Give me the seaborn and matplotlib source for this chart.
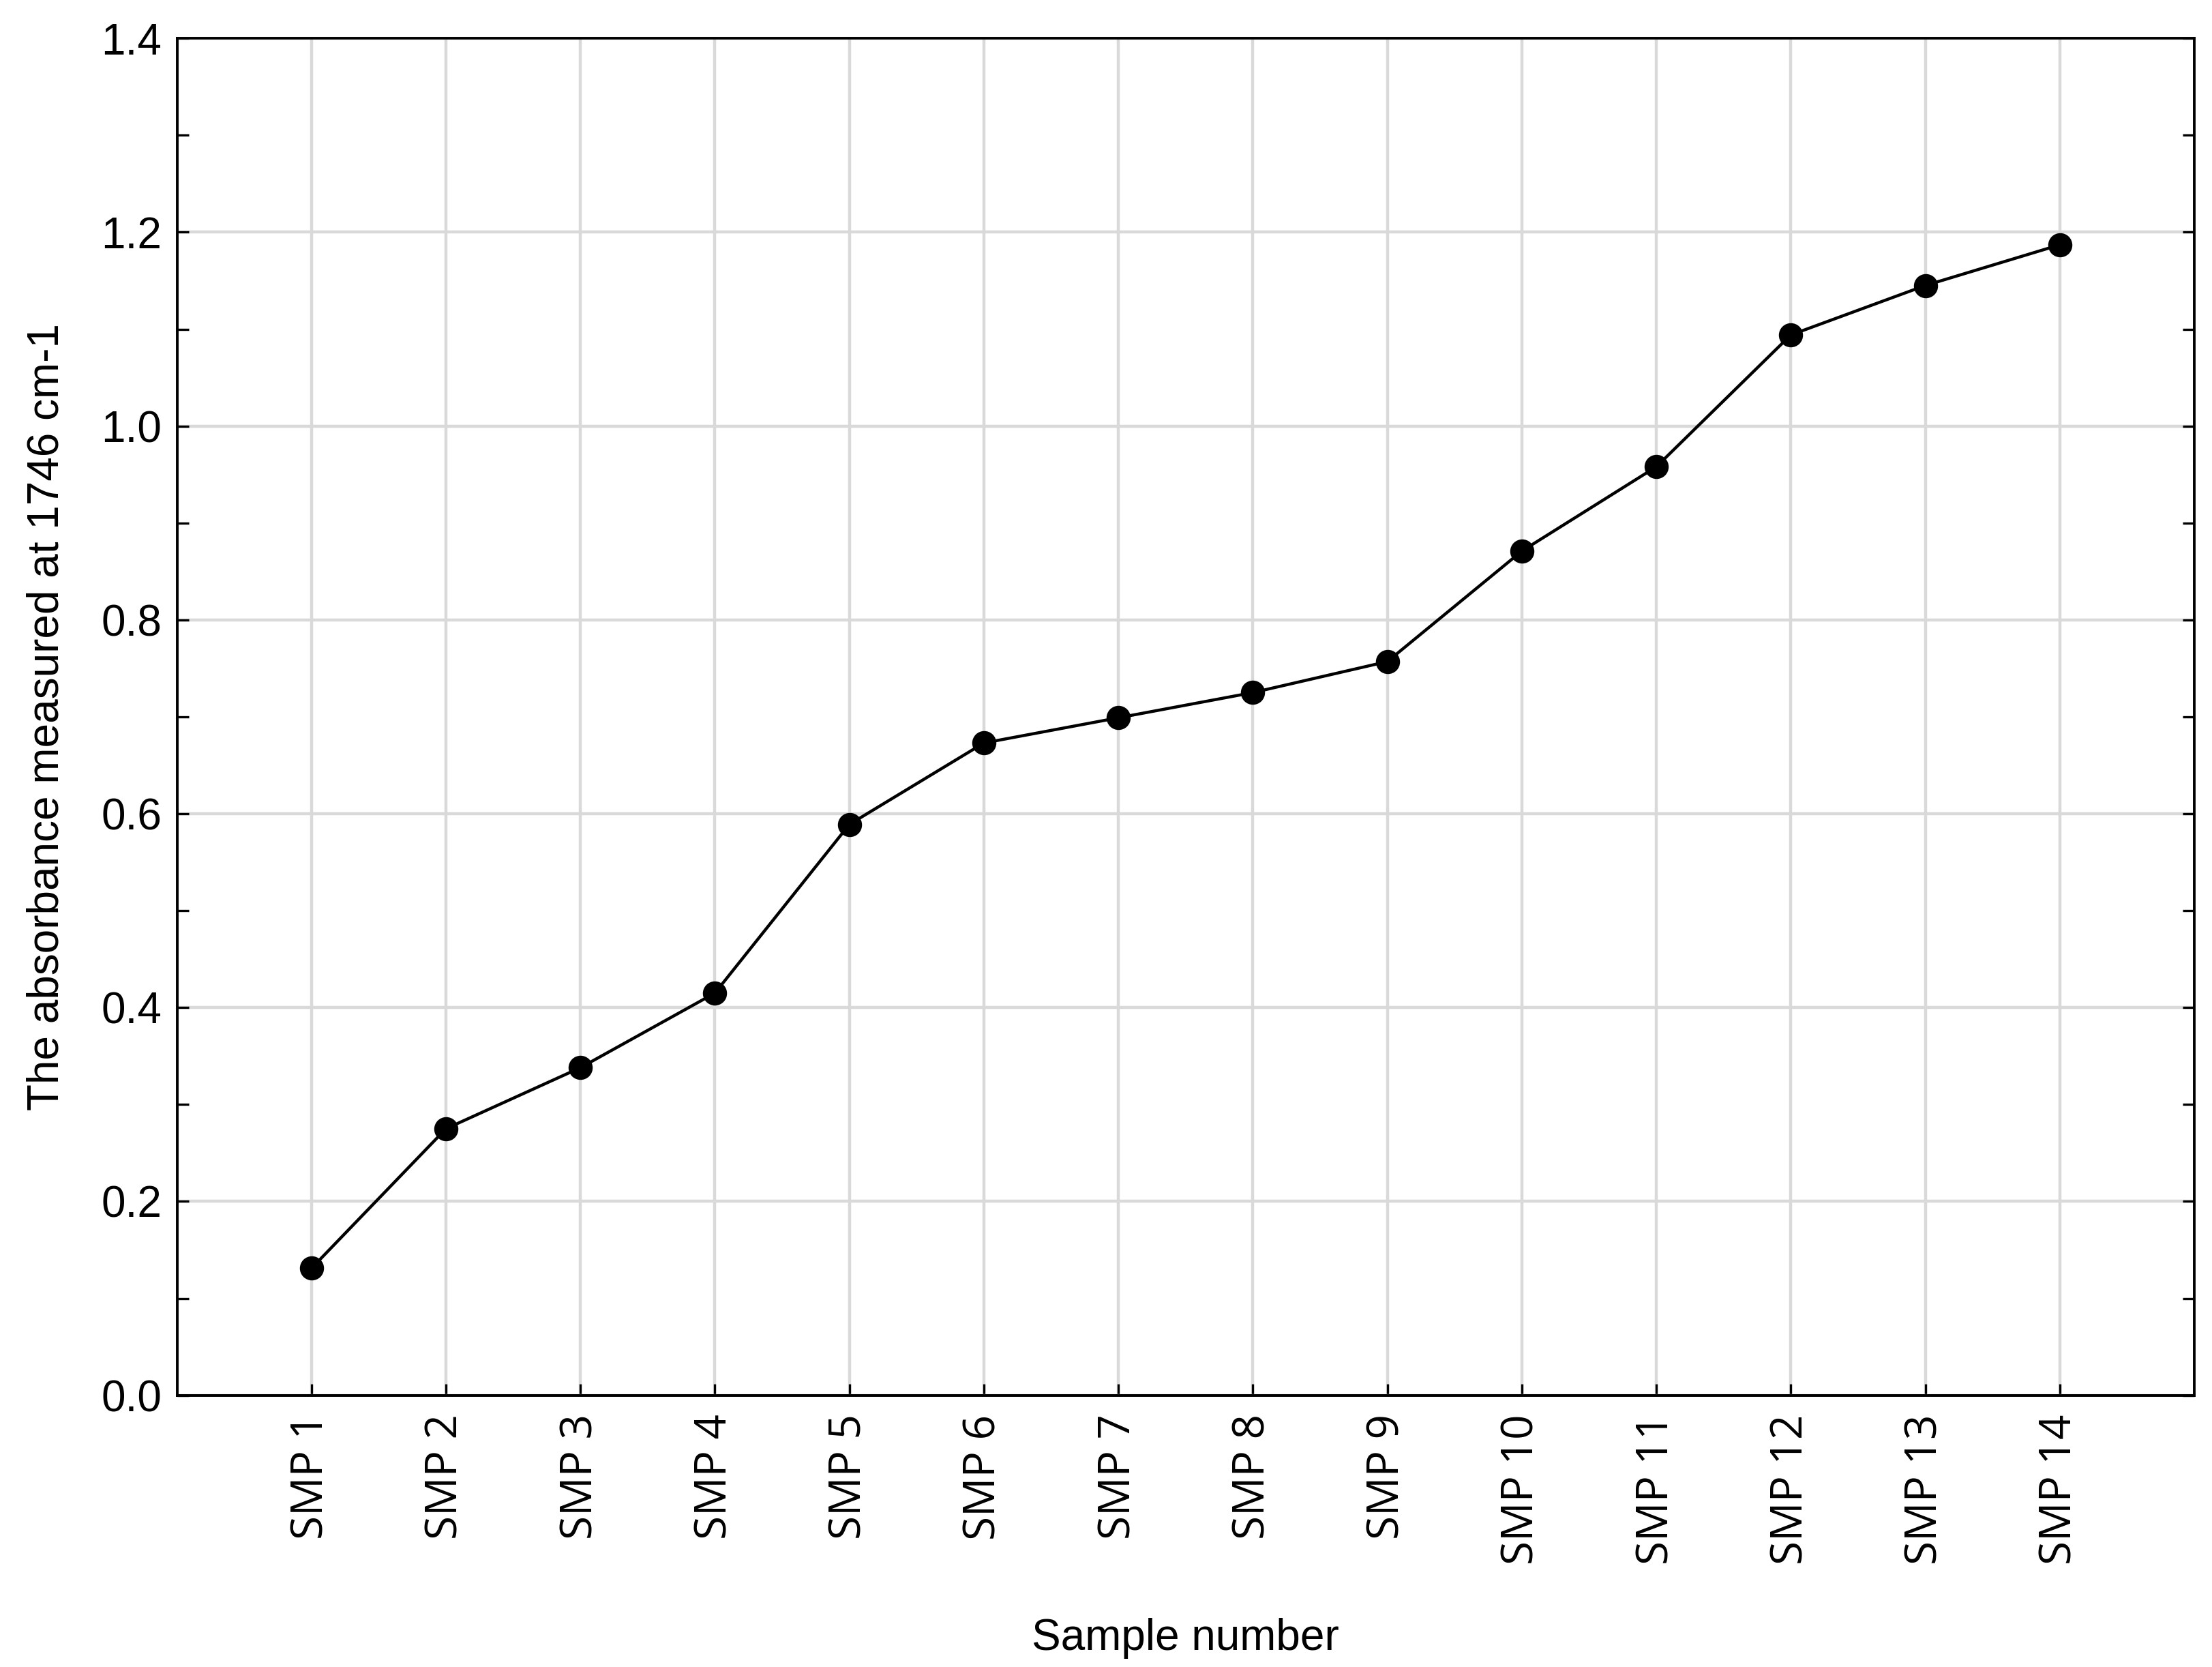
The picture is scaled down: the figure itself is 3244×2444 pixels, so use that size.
import pandas as pd
import seaborn as sns
import matplotlib.pyplot as plt
from matplotlib.ticker import MultipleLocator

# data
samples = ['SMP 1', 'SMP 2', 'SMP 3', 'SMP 4', 'SMP 5', 'SMP 6', 'SMP 7',
           'SMP 8', 'SMP 9', 'SMP 10', 'SMP 11', 'SMP 12', 'SMP 13', 'SMP 14']
absorbance = [0.131, 0.275, 0.338, 0.415, 0.589, 0.673, 0.699,
              0.725, 0.757, 0.871, 0.958, 1.094, 1.145, 1.187]

df = pd.DataFrame({'pos': range(1, len(samples) + 1), 'absorbance': absorbance})

sns.set_style('white')
plt.rcParams['font.family'] = ['Liberation Sans', 'DejaVu Sans']
plt.rcParams['text.color'] = 'black'
plt.rcParams['axes.labelcolor'] = 'black'
plt.rcParams['xtick.color'] = 'black'
plt.rcParams['ytick.color'] = 'black'

fig = plt.figure(figsize=(16.22, 12.22), dpi=200)
ax = fig.add_axes([0.08, 0.163, 0.912, 0.814])

sns.lineplot(data=df, x='pos', y='absorbance', ax=ax, color='black', linewidth=1.6,
             marker='o', markersize=12, markeredgecolor='black', markerfacecolor='black')

ax.set_xlim(0, 15)
ax.set_ylim(0, 1.4)
ax.set_xticks(df['pos'])
ax.set_xticklabels(samples, rotation=90, fontsize=23, family=['Open Sans', 'DejaVu Sans'])
ax.yaxis.set_major_locator(MultipleLocator(0.2))
ax.yaxis.set_minor_locator(MultipleLocator(0.1))
ax.set_yticklabels([f'{v:.1f}' for v in ax.get_yticks()], fontsize=23)
ax.tick_params(axis='y', which='both', left=True, right=True, direction='in', length=6, width=1.2)
ax.tick_params(axis='x', bottom=True, direction='in', length=6, width=1.2, pad=10)
ax.tick_params(axis='y', pad=8)
ax.grid(True, color='#d9d9d9', linewidth=1.6)
ax.set_axisbelow(True)
for s in ax.spines.values():
    s.set_color('black')
    s.set_linewidth(1.4)

ax.set_xlabel('Sample number', fontsize=23, labelpad=28)
ax.set_ylabel('The absorbance measured at 1746 cm-1', fontsize=23, labelpad=18)

fig.savefig('out.png', dpi=200)
